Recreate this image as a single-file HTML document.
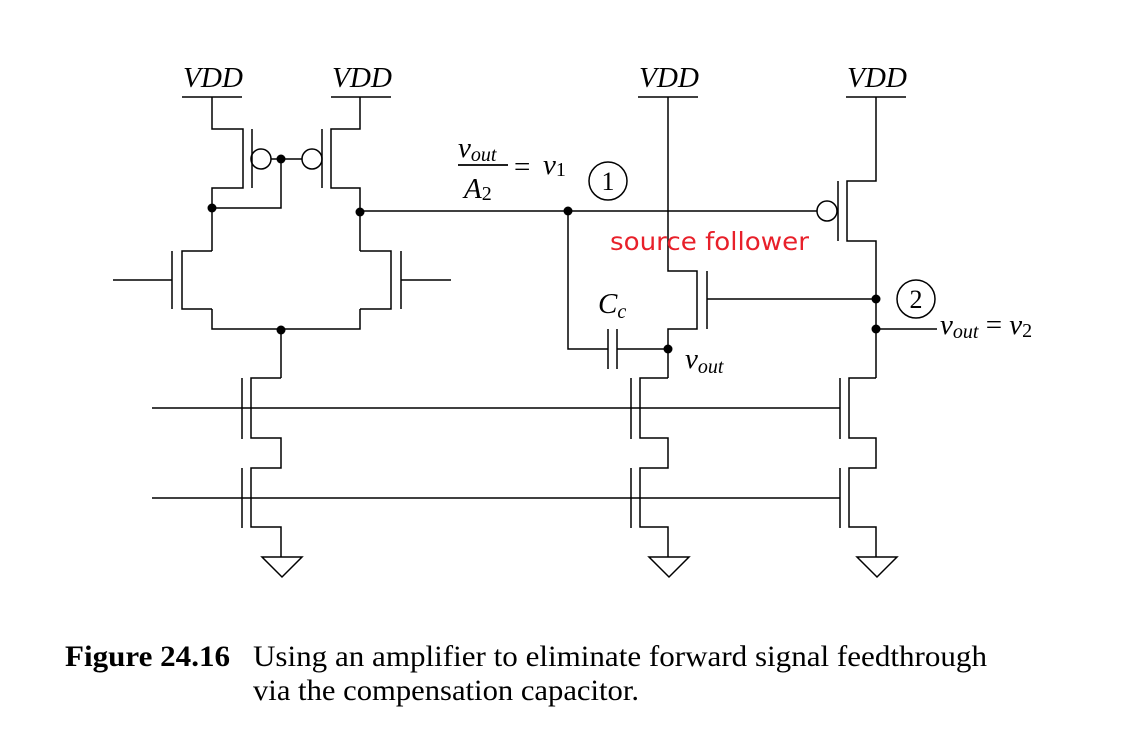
<!DOCTYPE html>
<html><head><meta charset="utf-8"><style>
html,body{margin:0;padding:0;background:#fff;width:1133px;height:751px;overflow:hidden}
svg{display:block}
text{font-family:"Liberation Serif",serif}
</style></head><body>
<svg width="1133" height="751" viewBox="0 0 1133 751" xmlns="http://www.w3.org/2000/svg">
<g stroke="#000" stroke-width="1.5" fill="none">
<path d="M182 97H242M331 97H391M638 97H698M846 97H906"/>
<path d="M212 97V129H243V188H212V251M252 129V188"/>
<path d="M360 97V129H331V188H360V251M322 129V188"/>
<circle cx="261" cy="159" r="10"/><circle cx="312" cy="159" r="10"/>
<path d="M271 159H302M281 159V208H212"/>
<path d="M212 251H182V309H212M172 251V309M113 280H172"/>
<path d="M360 251H391V309H360M401 251V309M401 280H451"/>
<path d="M212 309V329H360V309M281 329V378"/>
<path d="M360 211H817M568 211V349H608M608 329V369M617 329V369M617 349H668"/>
<circle cx="827" cy="211" r="10"/>
<path d="M668 97V271H697V329H668V378M707 271V329M707 299H876"/>
<path d="M876 97V181H847V241H876V378M838 181V241M876 329H937"/>
<path d="M281 378H251V438H281V468H251V527H281V557M242 378V439M242 468V528"/>
<path d="M668 378H640V438H668V468H640V527H668V557M631 378V439M631 468V528"/>
<path d="M876 378H849V438H876V468H849V527H876V557M840 378V439M840 468V528"/>
<path d="M152 408H840M152 498H840"/>
<path d="M262 557H302L282 577Z M649 557H689L669 577Z M857 557H897L877 577Z"/>
<circle cx="608" cy="181" r="19"/><circle cx="916" cy="299" r="19"/>
<path d="M458 165H508" stroke-width="1.8"/>
</g>
<g fill="#000">
<circle cx="281" cy="159" r="4.5"/><circle cx="212" cy="208" r="4.5"/><circle cx="360" cy="212" r="4.5"/>
<circle cx="568" cy="211" r="4.5"/><circle cx="281" cy="330" r="4.5"/><circle cx="668" cy="349" r="4.5"/>
<circle cx="876" cy="299" r="4.5"/><circle cx="876" cy="329" r="4.5"/>
</g>
<g font-size="29" font-style="italic" fill="#000">
<text x="183" y="87" textLength="60" lengthAdjust="spacingAndGlyphs">VDD</text>
<text x="332" y="87" textLength="60" lengthAdjust="spacingAndGlyphs">VDD</text>
<text x="639" y="87" textLength="60" lengthAdjust="spacingAndGlyphs">VDD</text>
<text x="847" y="87" textLength="60" lengthAdjust="spacingAndGlyphs">VDD</text>
<text x="458" y="157">v<tspan font-size="20" dy="4">out</tspan></text>
<text x="464" y="198">A<tspan font-size="20" font-style="normal" dy="2">2</tspan></text>
<text x="514" y="176" font-style="normal">=</text>
<text x="543" y="174">v<tspan font-size="20" font-style="normal" dy="2">1</tspan></text>
<text x="598" y="313">C<tspan font-size="20" dy="5">c</tspan></text>
<text x="685" y="368">v<tspan font-size="20" dy="5">out</tspan></text>
<text x="940" y="334">v<tspan font-size="20" dy="4">out</tspan><tspan dy="-4" font-style="normal"> = </tspan>v<tspan font-size="20" font-style="normal" dy="3">2</tspan></text>
</g>
<g font-size="26" fill="#000" text-anchor="middle">
<text x="608" y="190">1</text><text x="916" y="308">2</text>
</g>
<text x="610" y="250" font-size="25" fill="#e8202a" style="font-family:'DejaVu Sans',sans-serif" textLength="199" lengthAdjust="spacingAndGlyphs">source follower</text>
<text x="65" y="666" font-size="30" font-weight="bold" textLength="165" lengthAdjust="spacingAndGlyphs">Figure 24.16</text>
<text x="253" y="666" font-size="30" textLength="734" lengthAdjust="spacingAndGlyphs">Using an amplifier to eliminate forward signal feedthrough</text>
<text x="253" y="700" font-size="30" textLength="386" lengthAdjust="spacingAndGlyphs">via the compensation capacitor.</text>
</svg>
</body></html>
